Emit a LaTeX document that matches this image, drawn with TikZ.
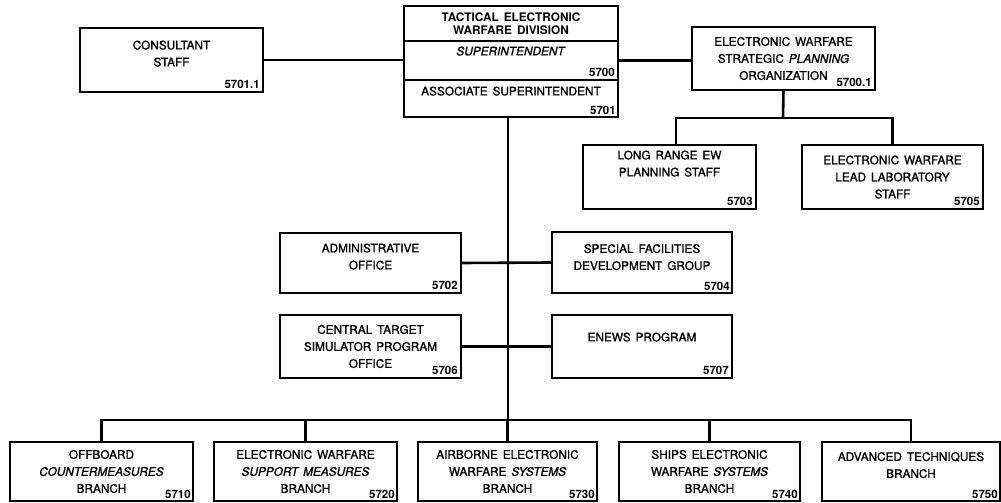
\documentclass[tikz,border=0pt]{standalone}
\usepackage{fontspec}
\setmainfont{TeX Gyre Heros}[FakeBold=1.2,WordSpace=1.5]
\newfontfamily\headfont{TeX Gyre Heros}[WordSpace=1.5]
\usetikzlibrary{positioning}

\begin{document}
\begin{tikzpicture}[x=1pt,y=-1pt,
  box/.style={draw,line width=1.8pt,align=center,inner sep=2pt,
    font=\fontsize{11.8}{17}\selectfont},
  num/.style={anchor=south east,inner sep=4pt,
    font=\headfont\fontsize{11.5}{12}\selectfont\bfseries},
  link/.style={line width=2.6pt}]
\useasboundingbox (0,0) rectangle (1001,503);

% division head
\node[box,minimum width=214pt,minimum height=35pt,font=\headfont\fontsize{11.8}{13}\selectfont\bfseries] (topA) at (511,23.5) {TACTICAL ELECTRONIC\\WARFARE DIVISION};
\node[box,minimum width=214pt,minimum height=39pt] (topB) at (511,60.5) {\textit{SUPERINTENDENT}\\[2pt]\mbox{}};
\node[box,minimum width=214pt,minimum height=37pt] (topC) at (511,98.5) {ASSOCIATE SUPERINTENDENT\\[-2pt]\mbox{}};
\node[num] (n5700) at (topB.south east) {5700};
\node[num,inner sep=3pt] (n5701) at (topC.south east) {5701};

% staff
\node[box,minimum width=183pt,minimum height=64pt] (cons) at (171.5,60) {CONSULTANT\\STAFF\\[-4pt]\mbox{}};
\node[num] (n57011) at (cons.south east) {5701.1};
\node[box,minimum width=183pt,minimum height=63pt] (ewsp) at (783.5,58.5) {ELECTRONIC WARFARE\\STRATEGIC \textit{PLANNING}\\ORGANIZATION\hspace{3.5em}};
\node[num] (n57001) at (ewsp.south east) {5700.1};
\node[box,minimum width=173pt,minimum height=64pt] (lr) at (669.5,177) {LONG RANGE EW\\PLANNING STAFF\\[10pt]\mbox{}};
\node[num] (n5703) at (lr.south east) {5703};
\node[box,minimum width=181pt,minimum height=64pt] (lead) at (892.5,177) {ELECTRONIC WARFARE\\LEAD LABORATORY\\STAFF};
\node[num] (n5705) at (lead.south east) {5705};

\node[box,minimum width=181pt,minimum height=60pt] (adm) at (370.5,263) {ADMINISTRATIVE\\OFFICE\\[-4pt]\mbox{}};
\node[num] (n5702) at (adm.south east) {5702};
\node[box,minimum width=180pt,minimum height=61pt] (sfd) at (642,262.5) {SPECIAL FACILITIES\\DEVELOPMENT GROUP\\[-6pt]\mbox{}};
\node[num,inner sep=3pt] (n5704) at (sfd.south east) {5704};
\node[box,minimum width=181pt,minimum height=63pt] (cts) at (370.5,346.5) {CENTRAL TARGET\\SIMULATOR PROGRAM\\OFFICE};
\node[num] (n5706) at (cts.south east) {5706};
\node[box,minimum width=180pt,minimum height=63pt] (enews) at (642,346.5) {ENEWS PROGRAM\\[2pt]\mbox{}};
\node[num] (n5707) at (enews.south east) {5707};

% branches
\node[box,minimum width=183pt,minimum height=59pt] (b1) at (101.5,471.5) {OFFBOARD\\\textit{COUNTERMEASURES}\\BRANCH};
\node[num,inner sep=3pt] (n5710) at (b1.south east) {5710};
\node[box,minimum width=183pt,minimum height=59pt] (b2) at (305.5,471.5) {ELECTRONIC WARFARE\\\textit{SUPPORT MEASURES}\\BRANCH};
\node[num,inner sep=3pt] (n5720) at (b2.south east) {5720};
\node[box,minimum width=179pt,minimum height=59pt] (b3) at (507.5,471.5) {AIRBORNE ELECTRONIC\\WARFARE \textit{SYSTEMS}\\BRANCH};
\node[num,inner sep=3pt] (n5730) at (b3.south east) {5730};
\node[box,minimum width=181pt,minimum height=59pt] (b4) at (709.5,471.5) {SHIPS ELECTRONIC\\WARFARE \textit{SYSTEMS}\\BRANCH};
\node[num,inner sep=3pt] (n5740) at (b4.south east) {5740};
\node[box,minimum width=178pt,minimum height=59pt] (b5) at (911,471.5) {ADVANCED TECHNIQUES\\BRANCH\\[-4pt]\mbox{}};
\node[num,inner sep=3pt] (n5750) at (b5.south east) {5750};

% connectors
\coordinate (ewbus) at (783,118);
\coordinate (spine) at (508,420);
\draw[link] (cons.east) -- (cons.east -| topB.west);
\draw[link] (topB.east) -- (topB.east -| ewsp.west);
\draw[link] (ewsp.south) -- (ewbus);
\draw[link] ([xshift=6.5pt]lr.north) |- (ewbus) -| (lead.north);
\draw[link] (topC.south -| spine) -- (spine);
\draw[link] (adm.east) -- (sfd.west);
\draw[link] (cts.east) -- (enews.west);
\draw[link] (b1.north) |- (spine) -| (b5.north);
\foreach \b in {b2,b3,b4}
  \draw[link] (\b.north) -- (\b.north |- spine);
\end{tikzpicture}
\end{document}
